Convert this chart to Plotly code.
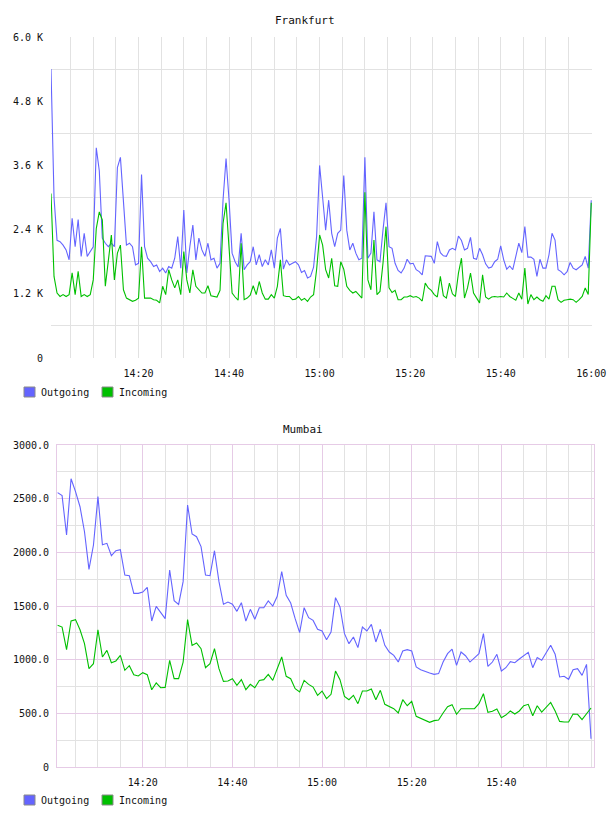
import pandas as pd
import plotly.graph_objects as go

W, H = 608, 816

# ---------------- data ----------------
series_names = ["Outgoing", "Incoming"]
series_colors = ["#6464ff", "#00c000"]
chart_titles = ["Frankfurt", "Mumbai"]

fra_out = [
    5400, 3000, 2200, 2175, 2110, 2020, 1835, 2610, 2080, 2590,
    1900, 2330, 1900, 1990, 2080, 3930, 3500, 2240, 2145, 2080,
    2145, 2080, 3560, 3750, 2900, 2110, 2145, 2080, 1740, 1770,
    3430, 2080, 1865, 1800, 1710, 1740, 1615, 1680, 1590, 1710,
    1680, 1865, 2270, 1680, 2765, 1590, 2080, 2485, 1835, 2240,
    2020, 1900, 2145, 1835, 1865, 1680, 1770, 2950, 3730, 2950,
    1960, 1800, 1700, 2330, 1650, 1740, 1800, 2080, 1740, 1930,
    1710, 1835, 1740, 2020, 1680, 2240, 2420, 1660, 1835, 1740,
    1770, 1800, 1740, 1600, 1635, 1495, 1525, 1700, 2270, 3600,
    3000, 2390, 2950, 2330, 2080, 2330, 2390, 3410, 2390, 2020,
    2145, 1960, 1835, 1865, 3750, 1865, 1960, 2735, 1835, 1800,
    2390, 2900, 2080, 2050, 1770, 1635, 1590, 1680, 1845, 1760,
    1770, 1650, 1615, 1555, 1910, 1900, 1900, 1770, 2175, 1970,
    1910, 1900, 2020, 2050, 2020, 2280, 2195, 2020, 2050, 2255,
    1865, 1845, 2050, 1930, 1760, 1680, 1700, 1800, 1845, 2095,
    1835, 1660, 1720, 1650, 1900, 2145, 1970, 2455, 1885, 1885,
    1845, 1525, 1845, 1680, 1680, 1930, 2330, 2205, 1650, 1615,
    1555, 1615, 1785, 1680, 1650, 1700, 1740, 1900, 1680, 2950,
]
fra_in = [
    3075, 1525, 1215, 1150, 1185, 1150, 1185, 1590, 1185, 1620,
    1150, 1185, 1150, 1185, 1460, 2420, 2730, 2580, 1340, 1835,
    2300, 1460, 1960, 2110, 1275, 1120, 1090, 1060, 1080, 1120,
    2080, 1120, 1120, 1120, 1090, 1080, 1030, 1340, 1185, 1650,
    1460, 1310, 1460, 1185, 1990, 1460, 1215, 1650, 1340, 1275,
    1215, 1215, 1350, 1165, 1150, 1140, 1265, 2515, 2900, 2020,
    1215, 1140, 1080, 2145, 1090, 1120, 1175, 1350, 1185, 1430,
    1215, 1100, 1100, 1185, 1120, 1340, 1835, 1165, 1150, 1150,
    1090, 1100, 1150, 1080, 1115, 1060, 1140, 1185, 1650, 2300,
    2110, 1650, 1495, 1865, 1350, 1340, 1800, 1660, 1340, 1265,
    1215, 1245, 1185, 1120, 3100, 1460, 1275, 2205, 1185, 1245,
    1770, 2455, 1310, 1225, 1265, 1090, 1090, 1140, 1140, 1165,
    1135, 1150, 1120, 1065, 1400, 1310, 1265, 1185, 1140, 1525,
    1165, 1120, 1400, 1200, 1150, 1585, 1865, 1120, 1310, 1585,
    1215, 1115, 1030, 1555, 1140, 1100, 1140, 1150, 1140, 1150,
    1140, 1215, 1150, 1115, 1080, 1215, 1100, 1680, 1010, 1185,
    1090, 1140, 1090, 1060, 1165, 1100, 1340, 1340, 1090, 1040,
    1080, 1090, 1100, 1090, 1040, 1090, 1150, 1310, 1185, 2900,
]
mum_out = [
    2556, 2528, 2161, 2686, 2565, 2425, 2192, 1841, 2068, 2519,
    2071, 2084, 1969, 2015, 2025, 1789, 1782, 1618, 1618, 1630,
    1674, 1360, 1497, 1444, 1382, 1835, 1550, 1515, 1727, 2441,
    2171, 2146, 2053, 1789, 1782, 2015, 1727, 1516, 1537, 1516,
    1450, 1531, 1360, 1469, 1376, 1484, 1484, 1547, 1500, 1590,
    1820, 1599, 1528, 1382, 1252, 1484, 1391, 1366, 1283, 1267,
    1186, 1258, 1578, 1491, 1242, 1149, 1211, 1112, 1304, 1267,
    1329, 1165, 1283, 1133, 1071, 1040, 978, 1081, 1093, 1081,
    932, 907, 888, 876, 863, 870, 978, 1056, 1099, 947,
    1071, 1037, 978, 1019, 1056, 1242, 938, 978, 1050, 894,
    925, 981, 972, 1006, 1037, 1068, 925, 1019, 994, 1068,
    1134, 1050, 839, 845, 817, 907, 916, 854, 956, 264,
]
mum_in = [
    1320, 1304, 1093, 1360, 1373, 1279, 1149, 916, 963, 1279,
    1025, 1087, 972, 988, 1040, 901, 944, 860, 848, 879,
    860, 720, 783, 739, 742, 994, 823, 823, 978, 1373,
    1133, 1155, 1102, 925, 963, 1102, 916, 798, 801, 823,
    761, 814, 720, 770, 739, 807, 814, 863, 807, 925,
    1025, 845, 823, 730, 699, 807, 770, 745, 668, 708,
    637, 677, 894, 814, 658, 627, 668, 590, 708, 708,
    727, 627, 714, 584, 565, 543, 503, 627, 571, 612,
    472, 453, 441, 416, 432, 438, 503, 562, 581, 491,
    543, 543, 537, 543, 590, 683, 509, 519, 540, 460,
    484, 522, 494, 522, 571, 584, 478, 571, 512, 562,
    602, 522, 425, 419, 419, 494, 491, 441, 491, 550,
]

fra_ytick_vals = [0, 1200, 2400, 3600, 4800, 6000]
fra_ytick_text = ["0", "1.2 K", "2.4 K", "3.6 K", "4.8 K", "6.0 K"]
fra_ygrid_vals = [600, 1800, 3000, 4200, 5400]
mum_ytick_vals = [0, 500, 1000, 1500, 2000, 2500, 3000]
mum_ytick_text = ["0", "500.0", "1000.0", "1500.0", "2000.0", "2500.0", "3000.0"]
mum_yminor_vals = [250, 750, 1250, 1750, 2250, 2750]
fra_xtick_text = ["14:20", "14:40", "15:00", "15:20", "15:40", "16:00"]
mum_xtick_text = ["14:20", "14:40", "15:00", "15:20", "15:40"]

for a, b in [(fra_out, fra_in), (mum_out, mum_in)]:
    if len(a) != len(b):
        raise ValueError("length mismatch %d %d" % (len(a), len(b)))

DAY = "2024-01-01 "
fra_time = pd.date_range(DAY + "14:00:40", periods=len(fra_out), freq="40s")
mum_time = pd.date_range(DAY + "14:01:00", periods=len(mum_out), freq="60s")
minor_x = list(pd.date_range(DAY + "14:05", DAY + "16:00", freq="5min"))


def px(x):
    return x / W


def py(y):
    return 1 - y / H


FONT = "DejaVu Sans Mono"
GRAY = "#e2e2e2"
PINK = "#e6cbe6"
LW = 1.1

fig = go.Figure()
for vals, name, col in [(fra_out, series_names[0], series_colors[0]),
                        (fra_in, series_names[1], series_colors[1])]:
    fig.add_trace(go.Scatter(x=fra_time, y=vals, mode="lines", name=name,
                             line=dict(color=col, width=LW), xaxis="x", yaxis="y",
                             showlegend=False))
for vals, name, col in [(mum_out, series_names[0], series_colors[0]),
                        (mum_in, series_names[1], series_colors[1])]:
    fig.add_trace(go.Scatter(x=mum_time, y=vals, mode="lines", name=name,
                             line=dict(color=col, width=LW), xaxis="x2", yaxis="y2",
                             showlegend=False))

tickfont = dict(family=FONT, size=10, color="#111")

fig.update_layout(
    width=W, height=H,
    margin=dict(l=0, r=0, t=0, b=0, autoexpand=False),
    paper_bgcolor="white", plot_bgcolor="white",
    xaxis=dict(
        domain=[px(51), px(592)], anchor="y", automargin=False,
        range=[DAY + "14:00:40", DAY + "16:00:10"],
        tickmode="array", tickvals=[DAY + t for t in fra_xtick_text], ticktext=fra_xtick_text,
        showgrid=True, gridcolor=GRAY, gridwidth=1,
        minor=dict(tickmode="array", tickvals=minor_x, showgrid=True, gridcolor=GRAY, gridwidth=1),
        ticks="outside", ticklen=6, tickcolor="rgba(0,0,0,0)",
        showline=False, zeroline=False, tickfont=tickfont,
    ),
    yaxis=dict(
        domain=[py(358), py(37)], anchor="x", automargin=False,
        range=[0, 6000],
        tickmode="array", tickvals=fra_ytick_vals, ticktext=fra_ytick_text,
        showgrid=False,
        minor=dict(tickmode="array", tickvals=fra_ygrid_vals, showgrid=True, gridcolor=GRAY, gridwidth=1),
        ticks="outside", ticklen=5, tickcolor="rgba(0,0,0,0)",
        showline=False, zeroline=False, tickfont=tickfont,
    ),
    xaxis2=dict(
        domain=[px(57), px(594)], anchor="y2", automargin=False,
        range=[DAY + "14:00:52", DAY + "16:00:40"],
        tickmode="array", tickvals=[DAY + t for t in mum_xtick_text], ticktext=mum_xtick_text,
        showgrid=True, gridcolor=PINK, gridwidth=1,
        minor=dict(tickmode="array", tickvals=minor_x, showgrid=True, gridcolor=GRAY, gridwidth=1),
        ticks="outside", ticklen=6, tickcolor="rgba(0,0,0,0)",
        showline=True, linecolor=PINK, linewidth=1, mirror=True,
        zeroline=False, tickfont=tickfont,
    ),
    yaxis2=dict(
        domain=[py(767), py(445)], anchor="x2", automargin=False,
        range=[0, 3000],
        tickmode="array", tickvals=mum_ytick_vals, ticktext=mum_ytick_text,
        showgrid=True, gridcolor=PINK, gridwidth=1,
        minor=dict(tickmode="array", tickvals=mum_yminor_vals, showgrid=True, gridcolor=GRAY, gridwidth=1),
        ticks="outside", ticklen=5, tickcolor="rgba(0,0,0,0)",
        showline=True, linecolor=PINK, linewidth=1, mirror=True,
        zeroline=False, tickfont=tickfont,
    ),
)

annotations = []
shapes = []
# titles
for title, (tx, ty) in zip(chart_titles, [(304.5, 20.5), (303, 429)]):
    annotations.append(dict(text=title, x=px(tx), y=py(ty), xref="paper", yref="paper",
                            xanchor="center", yanchor="middle", showarrow=False,
                            font=dict(family=FONT, size=11, color="#111")))
# legends
for ly in [392, 800]:
    for k, (name, col) in enumerate(zip(series_names, series_colors)):
        x0 = 24 + 78 * k
        shapes.append(dict(type="rect", xref="paper", yref="paper",
                           x0=px(x0), x1=px(x0 + 11), y0=py(ly + 5), y1=py(ly - 5),
                           fillcolor=col, line=dict(color="#8a8a8a", width=1)))
        annotations.append(dict(text=name, x=px(x0 + 15), y=py(ly), xref="paper", yref="paper",
                                xanchor="left", yanchor="middle", showarrow=False,
                                font=dict(family=FONT, size=10, color="#111")))
fig.update_layout(annotations=annotations, shapes=shapes)

fig.write_html("out.html")
